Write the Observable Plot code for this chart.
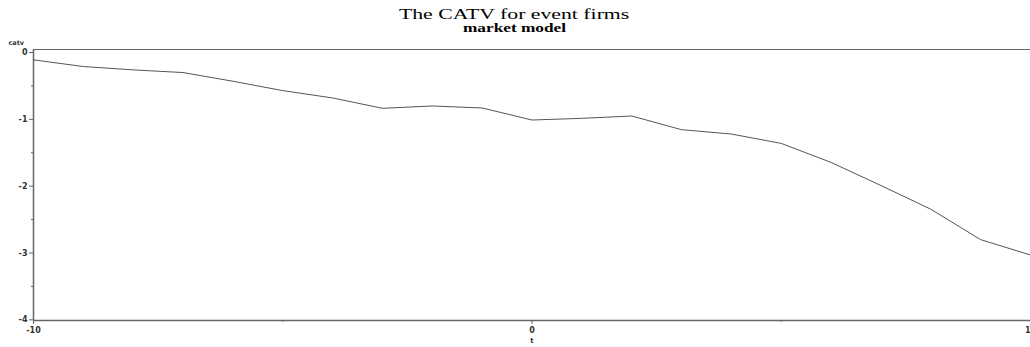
<!DOCTYPE html>
<html>
<head>
<meta charset="utf-8">
<script src="https://cdn.jsdelivr.net/npm/d3@7"></script>
<script src="https://cdn.jsdelivr.net/npm/@observablehq/plot@0.6"></script>
<style>
  html, body { margin: 0; padding: 0; background: #fff; }
  #title { height: 36px; text-align: center; font-family: "Liberation Serif", "DejaVu Serif", serif; color: #000; }
  #title .t1 { font-size: 15px; line-height: 15px; padding-top: 7px; transform: scaleX(1.45); transform-origin: 517px 0; }
  #title .t2 { font-size: 11.5px; line-height: 12px; font-weight: bold; transform: scaleX(1.5); transform-origin: 516px 0; }
</style>
</head>
<body>
<div id="title"><div class="t1">The CATV for event firms</div><div class="t2">market model</div></div>
<div id="chart"></div>
<script>
const t = [-10, -9, -8, -7, -6, -5, -4, -3, -2, -1, 0, 1, 2, 3, 4, 5, 6, 7, 8, 9, 10];
const catv = [-0.11, -0.21, -0.26, -0.30, -0.43, -0.57, -0.68, -0.835, -0.80, -0.83, -1.01, -0.985, -0.95, -1.155, -1.22, -1.36, -1.645, -1.99, -2.345, -2.80, -3.03];
const yTickValues = [0, -1, -2, -3, -4];
const yMinorTicks = [-0.5, -1.5, -2.5, -3.5];
const xTickValues = [-10, 0, 10];
const xMinorTicks = [-5, 5];

const data = t.map((d, i) => ({t: d, catv: catv[i]}));
const yTop = 0.045, yBottom = -4.01;
const axisColor = "#666";
const font = "DejaVu Sans, sans-serif";

const chart = Plot.plot({
  width: 1030,
  height: 311,
  marginTop: 13,
  marginBottom: 27,
  marginLeft: 33,
  marginRight: 0,
  style: {fontFamily: font, fontSize: "8px", fontWeight: "bold", color: "#333", background: "#fff"},
  x: {domain: [-10, 10]},
  y: {domain: [yBottom, yTop]},
  marks: [
    Plot.axisY({ticks: yTickValues, tickSize: 4, tickPadding: 2, stroke: axisColor, label: null, tickFormat: d => String(d)}),
    Plot.axisY({ticks: yMinorTicks, tickSize: 2, text: null, stroke: axisColor, label: null}),
    Plot.axisX({ticks: xTickValues, tickSize: 4, tickPadding: 3, stroke: axisColor, label: null, tickFormat: d => String(d)}),
    Plot.axisX({ticks: xMinorTicks, tickSize: 2, text: null, stroke: axisColor, label: null}),
    Plot.ruleX([-10], {stroke: axisColor, strokeWidth: 1.5}),
    Plot.ruleY([yBottom], {stroke: axisColor, strokeWidth: 1.5}),
    Plot.ruleY([yTop], {stroke: axisColor, strokeWidth: 1.2}),
    Plot.line(data, {x: "t", y: "catv", stroke: "#555", strokeWidth: 1}),
    Plot.text(["catv"], {frameAnchor: "top-left", dx: -25, dy: -9, fontSize: 6.5, fontWeight: "bold", fill: "#333", textAnchor: "start"}),
    Plot.text(["t"], {frameAnchor: "bottom", dy: 22, fontSize: 7, fontWeight: "bold", fill: "#333"})
  ]
});
document.getElementById("chart").appendChild(chart);
</script>
</body>
</html>
